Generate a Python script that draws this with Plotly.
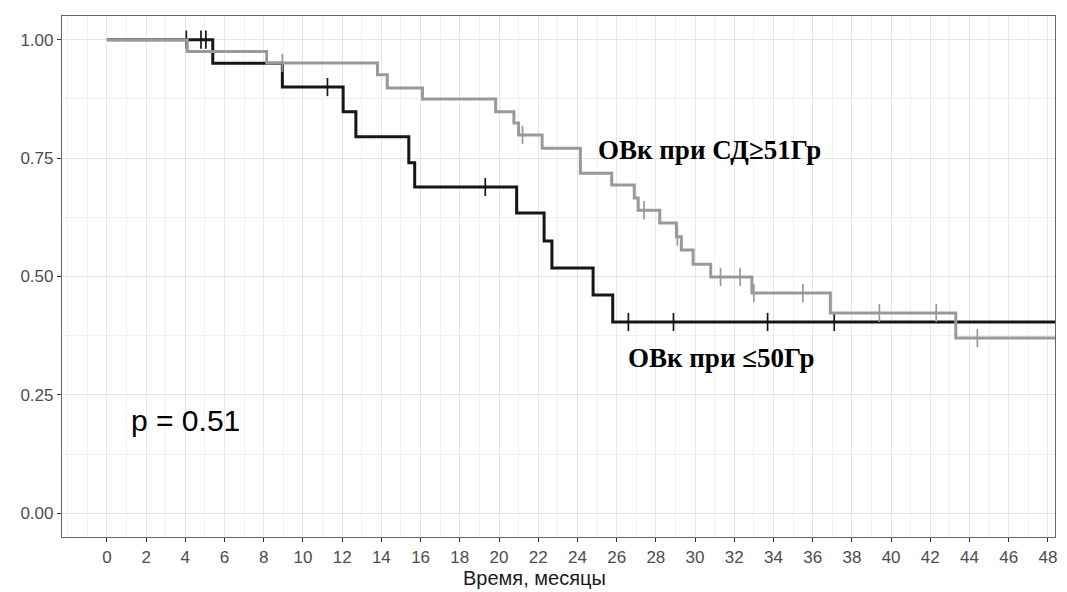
import numpy as np
import plotly.graph_objects as go

# ---- data ----
# group "ОВк при ≤50Гр" (black)
t_low = [0, 5.4, 8.95, 12.05, 12.7, 15.4, 15.7, 20.9, 22.3, 22.7, 24.8, 25.8, 48.6]
s_low = [1.0, 0.95, 0.90, 0.848, 0.795, 0.74, 0.689, 0.634, 0.575, 0.518, 0.461, 0.404, 0.404]
c_low = [4.05, 4.8, 5.05, 11.25, 19.3, 26.6, 28.9, 33.7, 37.1]

# group "ОВк при СД≥51Гр" (grey)
t_high = [0, 4.1, 8.15, 13.8, 14.3, 16.1, 19.83, 20.76, 21.0, 22.2, 24.15, 25.75, 26.9, 27.1,
          28.2, 29.05, 29.3, 29.9, 30.8, 32.9, 36.9, 43.3, 48.6]
s_high = [1.0, 0.975, 0.951, 0.926, 0.898, 0.875, 0.848, 0.824, 0.799, 0.771, 0.718, 0.693, 0.666, 0.64,
          0.613, 0.584, 0.556, 0.526, 0.499, 0.465, 0.423, 0.37, 0.37]
c_high = [8.95, 21.2, 27.4, 29.1, 31.3, 32.3, 33.0, 35.5, 39.4, 42.3, 44.4]

x_ticks = list(range(0, 49, 2))
y_ticks = [0, 0.25, 0.5, 0.75, 1.0]
y_ticklabels = ["0.00", "0.25", "0.50", "0.75", "1.00"]

label_high = "ОВк при СД≥51Гр"
label_low = "ОВк при ≤50Гр"
p_text = "p = 0.51"
x_title = "Время, месяцы"


def surv_at(times, surv, t):
    idx = np.searchsorted(np.array(times), np.array(t), side="right") - 1
    return list(np.array(surv)[idx])


fig = go.Figure()

BLACK = "#161616"
GREY = "#999999"

for t, s, c, col in [(t_low, s_low, c_low, BLACK), (t_high, s_high, c_high, GREY)]:
    fig.add_trace(go.Scatter(x=t, y=s, mode="lines", line=dict(shape="hv", color=col, width=3),
                             hoverinfo="skip", showlegend=False))
    fig.add_trace(go.Scatter(x=c, y=surv_at(t, s, c), mode="markers",
                             marker=dict(symbol="line-ns", size=13,
                                         line=dict(color=col, width=1.7), color=col),
                             hoverinfo="skip", showlegend=False))

SERIF = "Liberation Serif, Times New Roman, serif"
SANS = "Liberation Sans, Arial, sans-serif"

fig.add_annotation(x=24.95, y=0.767, xref="x", yref="y", text="<b>" + label_high + "</b>",
                   showarrow=False, xanchor="left", yanchor="middle",
                   font=dict(family=SERIF, size=27, color="#000000"))
fig.add_annotation(x=26.5, y=0.328, xref="x", yref="y", text="<b>" + label_low + "</b>",
                   showarrow=False, xanchor="left", yanchor="middle",
                   font=dict(family=SERIF, size=27, color="#000000"))
fig.add_annotation(x=1.15, y=0.197, xref="x", yref="y", text=p_text,
                   showarrow=False, xanchor="left", yanchor="middle",
                   font=dict(family=SANS, size=30, color="#000000"))

W, H = 1067, 592
ML, MR, MT, MB = 62, 10, 16, 55
fig.add_annotation(x=(535 - ML) / (W - ML - MR), y=-(578 - (H - MB)) / (H - MT - MB),
                   xref="paper", yref="paper", text=x_title, showarrow=False,
                   xanchor="center", yanchor="middle",
                   font=dict(family=SANS, size=20, color="#1a1a1a"))

fig.update_layout(
    width=W, height=H,
    margin=dict(l=ML, r=MR, t=MT, b=MB),
    paper_bgcolor="white", plot_bgcolor="white",
    font=dict(family=SANS),
    xaxis=dict(range=[-2.29, 48.36], tickmode="array", tickvals=x_ticks,
               ticks="outside", ticklen=4, tickwidth=1.2, tickcolor="#333333",
               tickfont=dict(size=17, color="#4d4d4d"),
               showgrid=True, gridcolor="#e6e6e6", gridwidth=1,
               minor=dict(dtick=1, tick0=1, showgrid=True, gridcolor="#f0f0f0", gridwidth=1, ticks=""),
               showline=True, linecolor="#666666", linewidth=1.2, mirror=True, zeroline=False),
    yaxis=dict(range=[-0.05, 1.05], tickmode="array", tickvals=y_ticks, ticktext=y_ticklabels,
               ticks="outside", ticklen=4, tickwidth=1.2, tickcolor="#333333",
               tickfont=dict(size=17, color="#4d4d4d"),
               showgrid=True, gridcolor="#e6e6e6", gridwidth=1,
               minor=dict(dtick=0.125, tick0=0.125, showgrid=True, gridcolor="#f0f0f0", gridwidth=1, ticks=""),
               showline=True, linecolor="#666666", linewidth=1.2, mirror=True, zeroline=False),
)

fig.write_html("out.html")
